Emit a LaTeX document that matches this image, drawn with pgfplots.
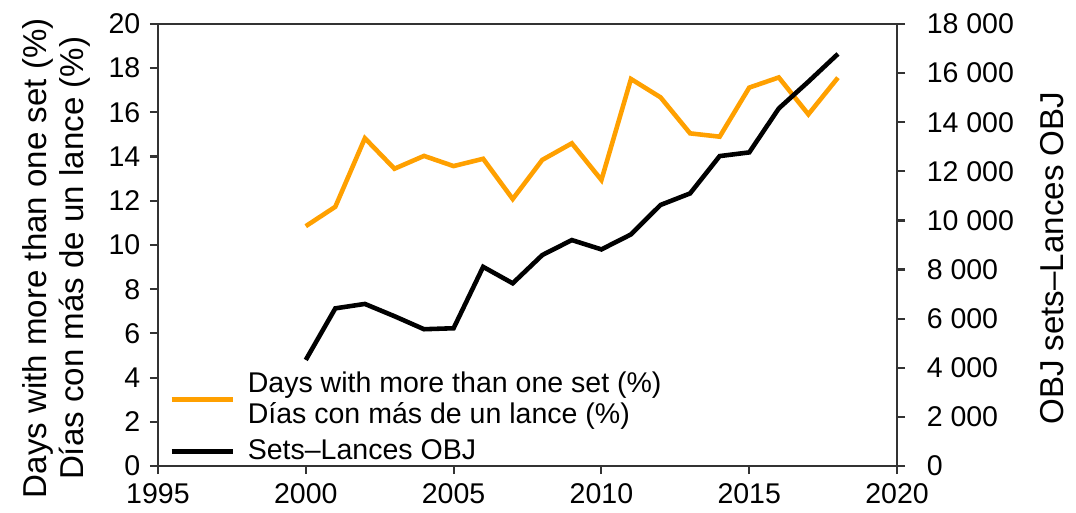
\documentclass[border=0pt]{standalone}
\usepackage{fontspec}
\setmainfont{Liberation Sans}
\usepackage{pgfplots}
\pgfplotsset{compat=1.18}
\definecolor{myorange}{RGB}{255,160,0}
\begin{document}
\begin{tikzpicture}
\pgfplotsset{every axis/.append style={
  font=\fontsize{10.6}{11.6}\selectfont,
  /pgf/number format/assume math mode=true,
  scale only axis, width=274.7pt, height=164.3pt,
  at={(0,0)}, anchor=south west,
  xmin=1995, xmax=2020,
  tick align=outside, major tick length=3pt,
  axis line style={black!80, line width=0.8pt},
  every tick/.style={black!80, line width=0.8pt},
}}
\begin{axis}[
  ymin=0, ymax=20, ytick distance=2,
  xtick={1995,2000,2005,2010,2015,2020},
  xticklabel style={/pgf/number format/1000 sep=},
  ytick pos=left, xtick pos=bottom,
  ylabel={Days with more than one set (\%)\\Días con más de un lance (\%)},
  ylabel style={align=center, font=\fontsize{12.3}{13.75}\selectfont, at={(ticklabel cs:0.47)}},
]
\addplot[myorange, line width=1.7pt] coordinates {
(2000,10.85) (2001,11.73) (2002,14.83) (2003,13.45) (2004,14.03) (2005,13.57)
(2006,13.9) (2007,12.08) (2008,13.85) (2009,14.6) (2010,12.94) (2011,17.51)
(2012,16.68) (2013,15.05) (2014,14.9) (2015,17.12) (2016,17.58) (2017,15.91) (2018,17.57)};
\end{axis}
\begin{axis}[
  ymin=0, ymax=18000, ytick distance=2000,
  axis y line*=right, axis x line=none,
  scaled y ticks=false,
  yticklabel style={/pgf/number format/1000 sep={\ }, anchor=west, xshift=4.5pt},
  ylabel={OBJ sets–Lances OBJ},
  ylabel shift=3pt,
  ylabel style={font=\fontsize{12.3}{13.75}\selectfont, at={(ticklabel cs:0.47)}},
  legend style={draw=none, fill=none, at={(0.0,0.0)}, anchor=south west,
    xshift=1pt, yshift=-3.3pt,
    nodes={align=left}, legend cell align=left, row sep=0.5pt},
  legend image code/.code={\draw[#1] (0pt,0pt) -- (23pt,0pt); \path (25.5pt,0pt);},
]
\addlegendimage{myorange, line width=1.7pt}
\addlegendentry{Days with more than one set (\%)\\Días con más de un lance (\%)}
\addplot[black, line width=1.7pt] coordinates {
(2000,4320) (2001,6420) (2002,6600) (2003,6100) (2004,5570) (2005,5610)
(2006,8110) (2007,7440) (2008,8590) (2009,9200) (2010,8820) (2011,9430)
(2012,10630) (2013,11100) (2014,12620) (2015,12770) (2016,14560) (2017,15650) (2018,16780)};
\addlegendentry{Sets–Lances OBJ}
\end{axis}
\pgfresetboundingbox
\path (-58.7pt,-17.1pt) rectangle (341.2pt,173.2pt);
\end{tikzpicture}
\end{document}
